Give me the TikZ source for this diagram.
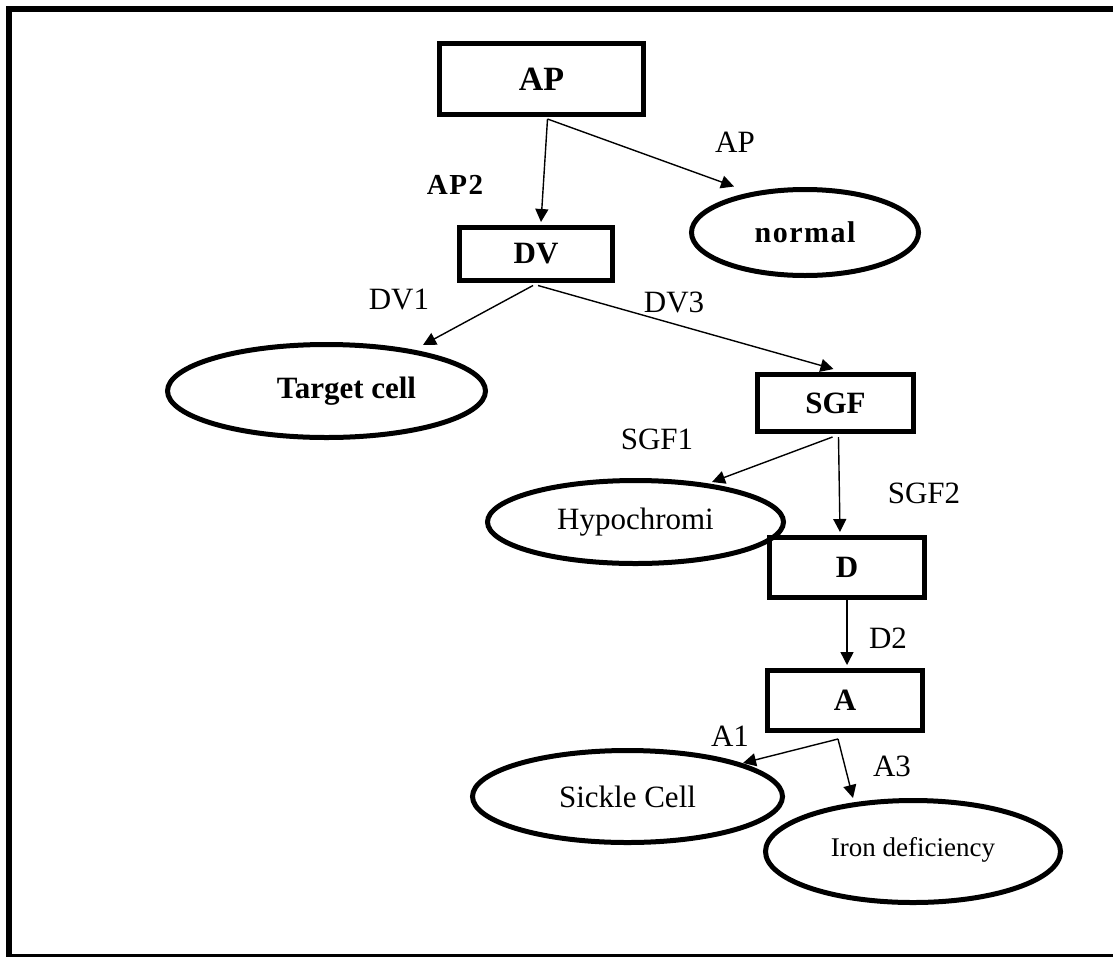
\documentclass[tikz,border=0pt]{standalone}
\usepackage{fontspec}
\setmainfont{Liberation Serif}
\newfontfamily\spacedfont[LetterSpace=5]{Liberation Serif}
\usetikzlibrary{arrows.meta,shapes.geometric,calc}

\tikzset{
  boxnode/.style={draw, line width=5pt, rectangle, inner sep=0pt,
    font=\fontsize{31}{37}\selectfont\bfseries},
  ovalnode/.style={draw, line width=5pt, ellipse, inner sep=0pt,
    font=\fontsize{31}{37}\selectfont},
  link/.style={line width=1.4pt, -{Triangle[length=13pt,width=13pt]}},
  edgelabel/.style={inner sep=0pt, font=\fontsize{31}{37}\selectfont},
}

\begin{document}
\begin{tikzpicture}[x=1pt,y=-1pt]
\clip (0,0) rectangle (1113,956);
% outer frame (right side runs past the page edge)
\draw[line width=6.5pt] (9,9) rectangle (1125,957.5);

% decision boxes
\node[boxnode, minimum width=204pt, minimum height=71pt,
      font=\fontsize{34}{40}\selectfont\bfseries] (AP) at (541.5,79) {AP};
\node[boxnode, minimum width=153pt, minimum height=53pt] (DV) at (536,254) {DV};
\node[boxnode, minimum width=156pt, minimum height=57pt] (SGF) at (835.5,403) {SGF};
\node[boxnode, minimum width=155pt, minimum height=60pt] (D) at (847,567.5) {D};
\node[boxnode, minimum width=155pt, minimum height=60pt] (A) at (845,700.5) {A};

% outcomes
\node[ovalnode, minimum width=227pt, minimum height=86pt,
      font=\fontsize{30}{36}\spacedfont\bfseries] (normal) at (805,232.5) {normal};
\node[ovalnode, minimum width=318pt, minimum height=93pt,
      font=\fontsize{31}{37}\selectfont\bfseries] (TC) at (326.5,391) {\hspace*{40pt}Target cell};
\node[ovalnode, minimum width=296pt, minimum height=83pt] (Hypo) at (635.5,522) {Hypochromi};
\node[ovalnode, minimum width=310pt, minimum height=92pt] (Sickle) at (627.5,796.5) {Sickle Cell};
\node[ovalnode, minimum width=295pt, minimum height=102pt,
      font=\fontsize{27}{32}\selectfont] (Iron) at (913,851.5) {\raisebox{10pt}{Iron deficiency}};

% branches
\draw[link] ($(AP.south)+(6,2)$) -- ($(DV.north)+(5,-3)$);
\draw[link] ($(AP.south)+(6,2)$) -- ($(normal.center)+(-71,-46)$);
\draw[link] ($(DV.south)+(-3,2.5)$) -- ($(TC.center)+(96.5,-46)$);
\draw[link] ($(DV.south)+(2,2.5)$) -- ($(SGF.north)+(-2,-3)$);
\draw[link] ($(SGF.south)+(-3,3)$) -- ($(Hypo.center)+(76.5,-40)$);
\draw[link] ($(SGF.south)+(3,3)$) -- ($(D.north)+(-7,-3)$);
\draw[link] (D.south) -- ($(A.north)+(2,-3)$);
\draw[link] ($(A.south)+(-7,6)$) -- ($(Sickle.center)+(115.5,-33.5)$);
\draw[link] ($(A.south)+(-7,6)$) -- ($(Iron.center)+(-60,-53.5)$);

% branch labels
\node[edgelabel, font=\fontsize{29}{35}\spacedfont\bfseries] (lAPtwo) at (455,185) {AP2};
\node[edgelabel] (lAP) at (735,142) {AP};
\node[edgelabel] (lDVone) at (399,299) {DV1};
\node[edgelabel] (lDVthree) at (674,302) {DV3};
\node[edgelabel] (lSGFone) at (657,439) {SGF1};
\node[edgelabel] (lSGFtwo) at (924,493) {SGF2};
\node[edgelabel] (lDtwo) at (888,638) {D2};
\node[edgelabel] (lAone) at (730,736) {A1};
\node[edgelabel] (lAthree) at (892,766) {A3};
\end{tikzpicture}
\end{document}
